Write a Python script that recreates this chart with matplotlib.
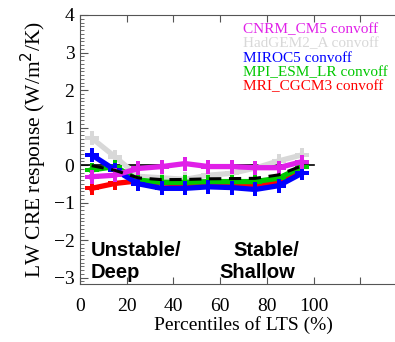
import matplotlib
matplotlib.use("Agg")
import matplotlib.pyplot as plt
import numpy as np
from matplotlib.ticker import MultipleLocator

# LTS percentile bin centres
pct = [5, 15, 25, 35, 45, 55, 65, 75, 85, 95]

# LW CRE response (W/m2/K) per model
cnrm = [-0.31, -0.27, -0.09, -0.04, 0.04, -0.04, -0.04, -0.07, -0.07, 0.09]
hadgem = [0.72, 0.22, -0.30, -0.34, -0.38, -0.27, -0.22, -0.08, 0.11, 0.27]
miroc = [0.27, -0.13, -0.50, -0.62, -0.62, -0.58, -0.60, -0.65, -0.55, -0.22]
mpi = [-0.13, -0.04, -0.40, -0.46, -0.46, -0.44, -0.44, -0.44, -0.35, -0.05]
mri = [-0.62, -0.49, -0.42, -0.48, -0.50, -0.50, -0.50, -0.53, -0.45, -0.20]

models = ["CNRM_CM5", "HadGEM2_A", "MIROC5", "MPI_ESM_LR", "MRI_CGCM3"]
colors = ["#e020e8", "#d8d8d8", "#0000ff", "#00c800", "#ff0000"]

serif = ["Liberation Serif", "DejaVu Serif"]
plt.rcParams["font.family"] = serif

fig = plt.figure(figsize=(3.95, 3.42), dpi=100)
# axes run past the right edge of the picture, as in the original
ax = fig.add_axes([80 / 395, 1 - 284 / 342, 327 / 395, 269 / 342])

series = dict(zip(models, [cnrm, hadgem, miroc, mpi, mri]))
col = dict(zip(models, colors))

ax.plot([0, 100], [0, 0], color="black", lw=1.2, zorder=2)

# draw order: grey behind, magenta on top
for name in ["HadGEM2_A", "MRI_CGCM3", "MPI_ESM_LR", "MIROC5", "CNRM_CM5"]:
    ax.plot(pct, series[name], color=col[name], lw=3.8, marker="P",
            markersize=10.5, markeredgewidth=0, zorder=3)

mean = np.mean([cnrm, hadgem, miroc, mpi, mri], axis=0)
ax.plot(pct, mean, color="black", lw=2.2, ls=(0, (4, 2.5)), zorder=4)

for i, name in enumerate(models):
    ax.text(0.497, 0.945 - i * 0.0525, f"{name} convoff", color=col[name],
            transform=ax.transAxes, fontsize=11, va="center", ha="left")

bold = dict(family=["Liberation Sans", "DejaVu Sans"], fontweight="bold",
            fontsize=14.5, va="center", ha="left")
ax.text(4.5, -2.27, "Unstable/", **bold)
ax.text(4.5, -2.86, "Deep", **bold)
ax.text(65.5, -2.27, "Stable/", **bold)
ax.text(59.5, -2.86, "Shallow", **bold)

ax.set_xlim(0, 140)
ax.set_ylim(-3.17, 4)
ax.set_xticks([0, 20, 40, 60, 80, 100, 120])
ax.set_xticklabels(["0", "20", "40", "60", "80", "100", ""])
ax.set_yticks(range(-3, 5))
ax.yaxis.set_minor_locator(MultipleLocator(0.1))
ax.tick_params(axis="both", which="both", direction="in", labelsize=14,
               top=True, right=False, color="#555555")
ax.tick_params(axis="x", which="major", length=5, pad=10)
ax.tick_params(axis="y", which="major", length=6, pad=4)
ax.tick_params(axis="y", which="minor", length=3)
for s in ax.spines.values():
    s.set_color("#555555")
ax.spines["right"].set_visible(False)

ax.set_xlabel("Percentiles of LTS (%)", fontsize=14, labelpad=1)
ax.set_ylabel("LW CRE response (W/m$^2$/K)", fontsize=15.5, labelpad=3)

fig.savefig("out.png", dpi=100)
